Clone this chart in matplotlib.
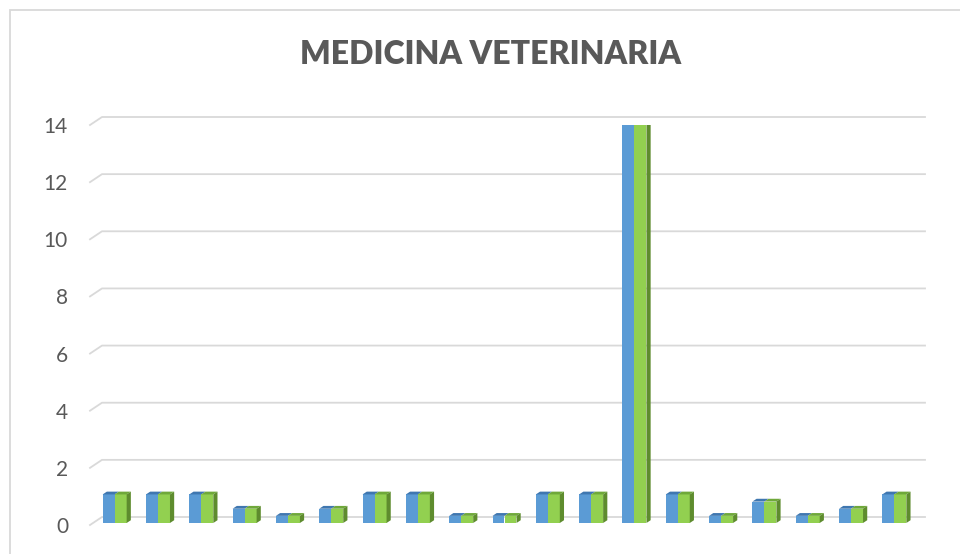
import numpy as np
import matplotlib.pyplot as plt
from matplotlib.patches import Rectangle

plt.rcParams['font.family'] = ['Lato', 'DejaVu Sans']

# datos (dos series iguales)
categorias = list(range(1, 20))
serie1 = [1, 1, 1, 0.5, 0.25, 0.5, 1, 1, 0.25, 0.25, 1, 1, 14, 1, 0.25, 0.75, 0.25, 0.5, 1]
serie2 = [1, 1, 1, 0.5, 0.25, 0.5, 1, 1, 0.25, 0.25, 1, 1, 14, 1, 0.25, 0.75, 0.25, 0.5, 1]
yticks = [0, 2, 4, 6, 8, 10, 12, 14]
titulo = 'MEDICINA VETERINARIA'

W, H = 960, 554
fig = plt.figure(figsize=(9.6, 5.54), dpi=100)

# marco del grafico
fig.patches.append(Rectangle((10 / W, -0.1), 1.2, (H - 10) / H + 0.1, transform=fig.transFigure,
                             fill=False, edgecolor='#D9D9D9', linewidth=1.3))

# plano frontal en pixeles
x0, x1 = 90, 913
yb, yt = 525, 125
ax = fig.add_axes([x0 / W, (H - yb) / H, (x1 - x0) / W, (yb - yt) / H])
n = len(categorias)
ax.set_xlim(-0.5, n - 0.5)
ax.set_ylim(0, 14)
ax.axis('off')

# profundidad 3D en unidades de datos
px_x = n / (x1 - x0)
px_y = 14 / (yb - yt)
dx, dy = 12 * px_x, 8 * px_y

# lineas de cuadricula con el piso inclinado
for v in yticks:
    ax.plot([-0.5, -0.5 + dx, n - 0.5 + dx], [v, v + dy, v + dy],
            color='#D9D9D9', lw=1.3, clip_on=False, zorder=1)
    ax.text(-0.5 - 22 * px_x, v - 2 * px_y, str(v), ha='right', va='center',
            fontsize=15, color='#595959')

# barras 3D
w = 0.277
f1, f2 = 0.25, 0.6
x = np.arange(n)
for xs, vals, cfront, ctop in [(x - w / 2, serie1, '#5B9BD5', '#3F77B0'),
                               (x + w / 2, serie2, '#92D050', '#6FA83A')]:
    ax.bar(xs + f1 * dx, vals, w, bottom=f1 * dy, color=cfront, zorder=3)
    d_x, d_y = (f2 - f1) * dx, (f2 - f1) * dy
    for xi, v in zip(xs, vals):
        l = xi - w / 2 + f1 * dx
        r = xi + w / 2 + f1 * dx
        top = v + f1 * dy
        ax.fill([l, r, r + d_x, l + d_x], [top, top, top + d_y, top + d_y],
                color=ctop, zorder=3, lw=0)
        if cfront == '#92D050':
            ax.fill([r, r + d_x, r + d_x, r], [f1 * dy, f1 * dy + d_y, top + d_y, top],
                    color='#5E8C2E', zorder=3, lw=0)

fig.text(491 / W, 1 - 55 / H, titulo, ha='center', va='center', fontsize=23,
         fontweight='heavy', color='#595959')

fig.savefig('out.png', dpi=100)
